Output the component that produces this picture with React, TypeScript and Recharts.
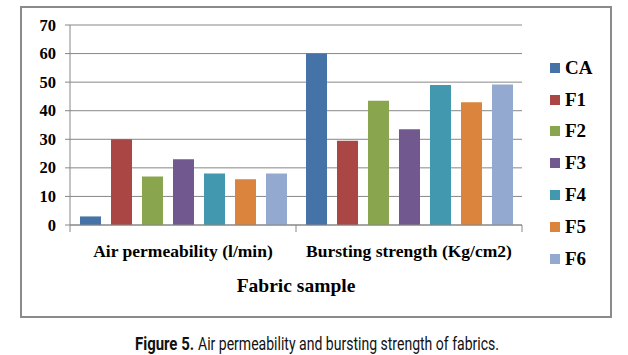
import { Bar, BarChart, CartesianGrid, Legend, XAxis, YAxis } from "recharts";

const categories = ["Air permeability (l/min)", "Bursting strength (Kg/cm2)"];
const seriesNames = ["CA", "F1", "F2", "F3", "F4", "F5", "F6"];
const seriesColors = ["#4572a7", "#aa4643", "#89a54e", "#71588f", "#4198af", "#db843d", "#93a9cf"];
const airPermeability = [3, 30, 17, 23, 18, 16, 18];
const burstingStrength = [60, 29.5, 43.5, 33.5, 49, 43, 49.2];
const yTicks = [0, 10, 20, 30, 40, 50, 60, 70];

const columns = [airPermeability, burstingStrength];
const data = categories.map((name, i) => {
  const row: Record<string, string | number> = { name };
  seriesNames.forEach((s, j) => {
    row[s] = columns[i][j];
  });
  return row;
});

const serif = "'Liberation Serif', 'Times New Roman', serif";
const PLOT_LEFT = 70;
const PLOT_RIGHT = 522;
const HALF_BAND = (PLOT_RIGHT - PLOT_LEFT) / categories.length / 2;
const GRID = "#878787";

function CategoryTick(props: any) {
  const { x, y, payload, index } = props;
  return (
    <g>
      <line x1={x - HALF_BAND} x2={x - HALF_BAND} y1={y - 8} y2={y - 1} stroke={GRID} />
      {index === categories.length - 1 && (
        <line x1={x + HALF_BAND} x2={x + HALF_BAND} y1={y - 8} y2={y - 1} stroke={GRID} />
      )}
      <text x={x} y={y + 24} textAnchor="middle" fontFamily={serif} fontWeight="bold" fontSize={17.5} fill="#000">
        {payload.value}
      </text>
    </g>
  );
}

function ValueTick(props: any) {
  const { x, y, payload } = props;
  return (
    <text x={x} y={y} dy={5.5} textAnchor="end" fontFamily={serif} fontWeight="bold" fontSize={16.5} fill="#000">
      {payload.value}
    </text>
  );
}

function LegendBox() {
  return (
    <div style={{ fontFamily: serif, fontWeight: "bold", fontSize: 19, color: "#000" }}>
      {seriesNames.map((s, i) => (
        <div key={s} style={{ display: "flex", alignItems: "center", height: 31.8 }}>
          <span style={{ width: 10, height: 10, background: seriesColors[i], marginRight: 5 }} />
          <span>{s}</span>
        </div>
      ))}
    </div>
  );
}

export default function App() {
  return (
    <div style={{ position: "absolute", left: 0, top: 0, width: 628, height: 355, background: "#fff" }}>
      <div
        style={{
          position: "absolute",
          left: 20,
          top: 6,
          width: 588,
          height: 308,
          border: "2px solid #8a8a8a",
        }}
      />
      <div style={{ position: "absolute", left: 0, top: 0 }}>
        <BarChart
          width={628}
          height={355}
          data={data}
          margin={{ top: 25, right: 46, bottom: 100, left: 20 }}
          barCategoryGap={10}
          barGap={10}
        >
          <CartesianGrid vertical={false} stroke={GRID} strokeWidth={1} />
          <XAxis
            dataKey="name"
            height={30}
            tickLine={false}
            axisLine={{ stroke: GRID }}
            tick={<CategoryTick />}
            interval={0}
            label={{
              value: "Fabric sample",
              position: "insideBottom",
              offset: -37,
              fontFamily: serif,
              fontWeight: "bold",
              fontSize: 19.5,
              fill: "#000",
            }}
          />
          <YAxis
            width={50}
            domain={[0, 70]}
            ticks={yTicks}
            interval={0}
            tickSize={5}
            tickMargin={9}
            axisLine={{ stroke: GRID }}
            tickLine={{ stroke: GRID }}
            tick={<ValueTick />}
          />
          <Legend
            layout="vertical"
            align="right"
            verticalAlign="top"
            content={<LegendBox />}
            wrapperStyle={{ position: "absolute", left: 550, top: 52, width: 60 }}
          />
          {seriesNames.map((s, i) => (
            <Bar key={s} dataKey={s} fill={seriesColors[i]} isAnimationActive={false} />
          ))}
        </BarChart>
      </div>
      {/* caption is condensed by hand, no narrow font installed */}
      <svg width={628} height={30} style={{ position: "absolute", left: 0, top: 325 }}>
        <g transform="translate(135 25) scale(0.83 1)">
          <text x={0} y={0} fontFamily="Roboto, sans-serif" fontWeight="bold" fontSize={18} fill="#111">
            Figure 5.
          </text>
        </g>
        <g transform="translate(198 25) scale(0.78 1)">
          <text x={0} y={0} fontFamily="Roboto, sans-serif" fontSize={18} fill="#111">
            Air permeability and bursting strength of fabrics.
          </text>
        </g>
      </svg>
    </div>
  );
}
